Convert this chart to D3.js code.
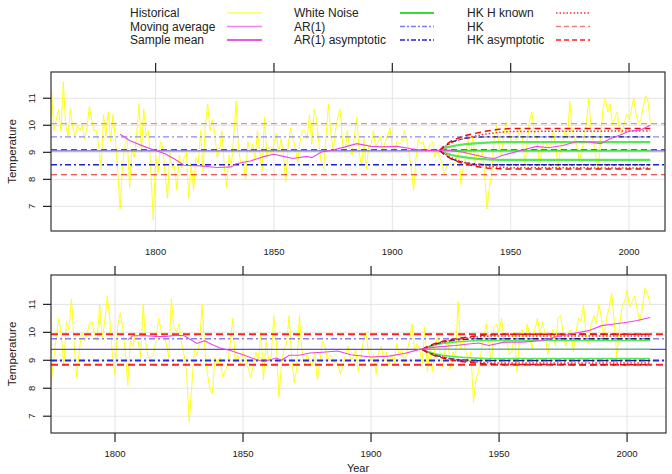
<!DOCTYPE html>
<html><head><meta charset="utf-8">
<script src="https://cdn.jsdelivr.net/npm/d3@7/dist/d3.min.js"></script>
<style>body{margin:0;background:#fff} svg{display:block} text{font-family:"Liberation Sans",Arial,sans-serif;fill:#222}</style>
</head><body><svg id="c" width="672" height="474"></svg>
<script>
// ---------------- DATA ----------------
const topStartYear = 1756;
const topTemp = [
11.3,9.8,10.2,10.6,9.8,11.6,10.0,9.6,10.6,9.9,
9.6,10.0,9.8,10.0,9.5,9.9,10.7,10.2,9.8,9.8,
9.2,8.4,10.4,9.6,10.5,9.4,10.4,9.5,8.3,6.9,
8.5,9.2,9.6,7.7,9.1,8.8,9.7,10.8,9.0,10.6,
9.6,9.8,8.3,6.5,8.9,8.2,9.4,9.2,8.2,7.3,
9.0,8.4,8.5,7.6,8.9,8.4,8.8,9.0,7.3,8.6,
7.6,8.8,8.6,9.8,8.3,10.0,10.8,9.8,10.2,9.7,
8.8,9.1,9.8,8.5,7.7,8.9,8.5,9.6,10.9,9.1,
8.6,8.7,8.0,9.4,9.0,9.3,8.7,9.8,9.0,8.3,
10.3,8.8,9.2,8.9,9.3,9.7,9.0,9.5,8.9,7.9,
9.3,9.9,9.5,9.2,8.6,9.4,9.8,9.8,9.5,10.4,
9.3,10.6,10.2,9.3,8.6,8.4,9.6,10.8,9.7,9.1,
9.8,10.3,10.6,9.3,9.0,9.8,9.1,8.9,9.6,10.3,
9.0,8.5,9.5,8.4,9.2,9.3,9.8,9.2,9.4,9.6,
9.0,9.4,9.6,9.9,9.2,9.1,9.4,9.3,9.4,9.8,
9.5,9.0,8.4,7.6,8.8,9.5,9.3,9.4,9.0,9.1,
9.3,9.4,8.8,9.1,8.8,8.6,8.2,8.5,8.6,8.5,
8.6,8.7,9.0,7.8,8.5,8.8,9.5,8.9,9.6,8.6,
9.0,8.7,9.0,8.2,6.9,7.7,8.2,9.5,10.0,9.3,
8.9,9.6,10.1,9.8,9.5,9.3,9.4,9.6,9.9,9.5,
8.5,9.4,10.2,10.5,9.6,9.6,8.6,8.9,9.4,9.3,
9.2,9.3,9.8,9.3,8.4,9.1,9.4,9.8,9.5,10.9,
9.8,9.5,9.2,8.7,9.0,9.5,10.1,11.0,9.8,9.4,
8.8,8.4,9.5,10.6,11.0,10.5,10.8,10.0,10.3,10.5,
9.8,9.7,10.1,10.4,10.2,10.6,11.0,10.4,10.1,10.2,
10.7,11.1,10.9,10.1];
const bottomStartYear = 1775;
const bottomTemp = [
8.1,9.0,9.8,10.5,9.9,8.8,10.4,10.1,11.2,9.7,
8.4,9.3,10.0,9.7,9.9,10.3,10.4,9.9,9.7,11.0,
9.8,10.4,11.3,10.4,9.2,8.5,10.2,10.7,10.2,9.3,
8.1,9.7,9.5,10.0,9.7,9.1,11.0,9.6,9.1,9.1,
9.2,9.7,10.5,10.1,9.9,9.6,9.1,11.2,10.2,10.0,
10.3,9.6,9.2,8.5,6.8,8.1,9.4,9.2,9.6,11.0,
9.5,8.6,8.0,7.8,9.1,8.9,9.1,8.4,8.6,8.9,
9.6,10.5,8.9,9.2,8.8,9.3,9.1,8.7,8.4,8.8,
9.3,9.0,10.0,8.3,9.7,9.0,9.1,10.6,9.7,7.7,
8.8,9.4,9.6,10.6,9.1,8.2,8.7,10.6,9.4,8.8,
9.2,9.0,8.8,9.3,8.3,8.9,9.7,9.5,9.0,9.2,
9.1,8.9,8.9,8.5,8.8,9.2,9.5,9.0,9.1,9.4,
8.6,9.06,9.7,10.0,9.3,9.0,9.2,8.5,9.3,9.5,
9.0,9.3,8.8,9.2,8.9,9.6,9.2,9.4,8.9,9.3,
9.7,10.3,9.3,9.6,9.4,8.9,10.2,8.6,9.4,8.6,
9.5,9.9,9.2,8.75,9.4,9.8,8.7,9.3,9.1,11.1,
9.4,9.8,9.3,9.05,9.3,7.5,8.3,8.6,9.3,9.8,
10.3,9.6,8.9,10.2,10.3,10.0,10.5,9.6,9.8,9.2,
9.3,10.0,8.6,9.8,10.1,9.7,10.3,9.8,9.4,10.1,
10.5,9.9,10.4,9.9,9.2,9.8,10.1,9.5,10.5,10.6,
10.0,9.5,10.0,10.1,9.3,10.0,10.5,10.4,11.0,9.9,
9.6,10.3,10.6,10.3,11.0,10.5,9.8,10.5,10.9,11.4,
10.4,9.1,10.2,10.9,11.1,11.5,10.9,11.1,11.3,10.8,
10.4,10.9,11.6,11.4,11.0];

// 30-year moving average
const topMAYears  = [1785,1789,1795,1800,1804,1808,1812,1819,1826,1832,1834,1840,1846,1850,1854,1858,1864,1866,1870,1874,1880,1885,1891,1896,1902,1908,1913,1919,1924,1930,1935,1940,1943,1947,1952,1957,1961,1966,1972,1978,1983,1988,1992,1996,2000,2005,2009];
const topMAValues = [9.67,9.44,9.22,9.07,8.95,8.75,8.52,8.50,8.44,8.46,8.58,8.68,8.85,8.93,8.85,8.77,8.85,8.80,9.01,9.07,9.20,9.32,9.22,9.20,9.22,9.13,9.07,9.07,9.07,9.0,8.9,8.8,8.77,8.9,9.01,9.13,9.22,9.17,9.25,9.40,9.38,9.32,9.50,9.63,9.78,9.83,10.0];
const botMAYears  = [1805,1807,1812,1816,1820,1824,1827,1829,1832,1835,1837,1841,1845,1850,1855,1858,1861,1863,1865,1868,1872,1876,1881,1887,1892,1900,1907,1913,1919,1925,1933,1939,1942,1946,1952,1959,1967,1972,1978,1985,1990,1995,2000,2004,2009];
const botMAValues = [9.73,9.88,9.88,9.85,9.85,9.90,9.88,9.77,9.60,9.70,9.60,9.44,9.35,9.20,9.03,8.96,9.03,9.08,9.0,9.18,9.18,9.26,9.29,9.33,9.20,9.12,9.15,9.24,9.39,9.47,9.53,9.59,9.62,9.53,9.65,9.65,9.71,9.83,9.94,10.06,10.24,10.30,10.36,10.42,10.53];

// horizontal reference levels (series name, value)
const topLevelNames  = ["HK","AR(1)","HK asymptotic","Sample mean","AR(1) asymptotic","HK asymptotic"];
const topLevelValues = [10.06,9.57,9.10,9.05,8.54,8.17];
const botLevelNames  = ["HK asymptotic","AR(1)","Sample mean","AR(1) asymptotic","HK asymptotic"];
const botLevelValues = [9.93,9.77,9.39,8.99,8.84];

// forecast envelopes from 1920
const fcYears = [1920,1922,1925,1928,1931,1935,1940,1945,1950,2009];
const topWNUp  = [9.07,9.15,9.22,9.27,9.30,9.33,9.36,9.38,9.38,9.38];
const topWNLo  = [9.07,8.98,8.90,8.85,8.81,8.77,8.74,8.72,8.72,8.72];
const topWNMid = [9.07,9.07,9.07,9.07,9.07,9.07,9.07,9.07,9.07,9.07];
const topARUp  = [9.07,9.22,9.38,9.47,9.52,9.56,9.57,9.57,9.57,9.57];
const topARLo  = [9.07,8.92,8.76,8.67,8.61,8.57,8.54,8.54,8.54,8.54];
const topHKKUp = [9.07,9.20,9.35,9.45,9.53,9.60,9.68,9.74,9.77,9.79];
const topHKKLo = [9.07,8.95,8.80,8.70,8.62,8.55,8.49,8.45,8.43,8.42];
const topHKUp  = [9.07,9.25,9.42,9.53,9.62,9.70,9.79,9.85,9.88,9.88];
const topHKLo  = [9.07,8.92,8.75,8.64,8.56,8.48,8.42,8.39,8.38,8.38];
const botWNUp  = [9.39,9.47,9.55,9.60,9.64,9.67,9.70,9.71,9.71,9.71];
const botWNLo  = [9.39,9.31,9.23,9.18,9.14,9.11,9.08,9.06,9.06,9.06];
const botWNMid = [9.39,9.39,9.39,9.39,9.39,9.39,9.39,9.39,9.39,9.39];
const botARUp  = [9.39,9.48,9.58,9.65,9.70,9.74,9.77,9.77,9.77,9.77];
const botARLo  = [9.39,9.29,9.18,9.11,9.06,9.02,8.99,8.99,8.99,8.99];
const botHKKUp = [9.39,9.47,9.57,9.65,9.71,9.77,9.82,9.86,9.87,9.87];
const botHKKLo = [9.39,9.30,9.20,9.12,9.06,9.00,8.95,8.91,8.90,8.90];
const botHKUp  = [9.39,9.50,9.60,9.68,9.74,9.80,9.86,9.91,9.93,9.93];
const botHKLo  = [9.39,9.28,9.16,9.08,9.02,8.96,8.91,8.87,8.85,8.84];

const xTicks = [1800,1850,1900,1950,2000];
const yTicks = [7,8,9,10,11];
const legendNames = ["Historical","Moving average","Sample mean","White Noise","AR(1)","AR(1) asymptotic","HK H known","HK","HK asymptotic"];

// ---------------- STYLES ----------------
const legendStyle = {
  "Historical":{c:"#ffff50",w:1.5,d:null},
  "Moving average":{c:"#f080f0",w:1.6,d:null},
  "Sample mean":{c:"#e020e0",w:1.6,d:null},
  "White Noise":{c:"#33dd33",w:2,d:null},
  "AR(1)":{c:"#7a7aff",w:1.4,d:"5,2,2,2"},
  "AR(1) asymptotic":{c:"#2222dd",w:1.6,d:"5,2,2,2"},
  "HK H known":{c:"#ff3030",w:1.4,d:"1.5,2"},
  "HK":{c:"#f08080",w:1.4,d:"5,3"},
  "HK asymptotic":{c:"#ff1a1a",w:1.6,d:"5,3"}
};
const levelStyleTop = {
  "HK":{c:"#e89090",w:1.2,d:"6,4"},
  "AR(1)":{c:"#8a8af5",w:1.2,d:"6,3,2,3"},
  "HK asymptotic":{c:"#e82020",w:1.2,d:"6,4"},
  "Sample mean":{c:"#6a6ae6",w:1.3,d:null},
  "AR(1) asymptotic":{c:"#2020d0",w:1.3,d:"6,3,2,3"}
};
const levelStyleBot = {
  "HK asymptotic":{c:"#ff2020",w:2,d:"7,4"},
  "AR(1)":{c:"#8080f5",w:1.4,d:"6,3,2,3"},
  "Sample mean":{c:"#5050d8",w:1.3,d:null},
  "AR(1) asymptotic":{c:"#2a2ae0",w:2,d:"6,3,2,3"}
};

const svg = d3.select("#c");

// ---------------- LEGEND ----------------
const legCols = [{tx:130,lx1:227,lx2:262},{tx:294,lx1:400,lx2:434},{tx:467,lx1:556,lx2:590}];
const legRows = [13,26.5,40];
legendNames.forEach((n,i)=>{
  const col = legCols[Math.floor(i/3)], ry = legRows[i%3], s = legendStyle[n];
  svg.append("text").attr("x",col.tx).attr("y",ry).attr("dy","0.35em").attr("font-size",12).style("fill","#222").text(n);
  svg.append("line").attr("x1",col.lx1).attr("x2",col.lx2).attr("y1",ry).attr("y2",ry)
    .attr("stroke",s.c).attr("stroke-width",s.w).attr("stroke-dasharray",s.d);
});

// ---------------- PANELS ----------------
function panel(cfg){
  const x = d3.scaleLinear().domain(cfg.xdom).range([cfg.left,cfg.right]);
  const y = d3.scaleLinear().domain(cfg.ydom).range([cfg.bottom,cfg.top]);
  const g = svg.append("g");
  // grid
  g.selectAll(".gx").data(xTicks).enter().append("line")
    .attr("x1",d=>x(d)).attr("x2",d=>x(d)).attr("y1",cfg.top).attr("y2",cfg.bottom)
    .attr("stroke","#e4e4e4").attr("stroke-width",1);
  g.selectAll(".gy").data(yTicks).enter().append("line")
    .attr("x1",cfg.left).attr("x2",cfg.right).attr("y1",d=>y(d)).attr("y2",d=>y(d))
    .attr("stroke","#e4e4e4").attr("stroke-width",1);
  const clip = "clip"+cfg.id;
  svg.append("clipPath").attr("id",clip).append("rect")
    .attr("x",cfg.left).attr("y",cfg.top).attr("width",cfg.right-cfg.left).attr("height",cfg.bottom-cfg.top);
  const pg = g.append("g").attr("clip-path","url(#"+clip+")");
  const line = d3.line().x(d=>x(d[0])).y(d=>y(d[1]));
  // historical
  const hist = cfg.temp.map((v,i)=>[cfg.start+i,v]);
  pg.append("path").attr("d",line(hist)).attr("fill","none").attr("stroke","#ffff00").attr("stroke-width",0.9);
  // levels
  cfg.levelNames.forEach((n,i)=>{
    const s = cfg.levelStyle[n], v = cfg.levelValues[i];
    pg.append("path").attr("d",line([[cfg.xdom[0],v],[cfg.xdom[1],v]])).attr("fill","none")
      .attr("stroke",s.c).attr("stroke-width",s.w).attr("stroke-dasharray",s.d);
  });
  // forecasts
  const fc = (arr,c,w,d)=>pg.append("path").attr("d",line(fcYears.map((yr,i)=>[yr,arr[i]])))
      .attr("fill","none").attr("stroke",c).attr("stroke-width",w).attr("stroke-dasharray",d);
  fc(cfg.wnUp,"#55e855",cfg.wnW,null); fc(cfg.wnLo,"#55e855",cfg.wnW,null); fc(cfg.wnMid,"#44dd44",1.3,null);
  fc(cfg.arUp,"#1a1a7a",1.3,"6,3,2,3"); fc(cfg.arLo,"#1a1a9a",1.3,"6,3,2,3");
  fc(cfg.hkkUp,"#ff2a2a",1.5,"1.5,2"); fc(cfg.hkkLo,"#ff2a2a",1.5,"1.5,2");
  fc(cfg.hkUp,"#e01010",1.5,"6,4"); fc(cfg.hkLo,"#e01010",1.5,"6,4");
  // moving average
  pg.append("path").attr("d",line(cfg.maY.map((yr,i)=>[yr,cfg.maV[i]]))).attr("fill","none")
    .attr("stroke","#e848e8").attr("stroke-width",1.1);
  // border
  g.append("rect").attr("x",cfg.left).attr("y",cfg.top).attr("width",cfg.right-cfg.left).attr("height",cfg.bottom-cfg.top)
    .attr("fill","none").attr("stroke","#333").attr("stroke-width",1.2);
  // y ticks + labels
  yTicks.forEach(t=>{
    g.append("line").attr("x1",cfg.left-8).attr("x2",cfg.left).attr("y1",y(t)).attr("y2",y(t)).attr("stroke","#222").attr("stroke-width",1.2);
    g.append("text").attr("transform",`translate(32,${y(t)}) rotate(-90)`).attr("text-anchor","middle")
      .attr("dy","0.35em").attr("font-size",9.5).text(t);
  });
  // x ticks
  xTicks.forEach(t=>{
    g.append("line").attr("x1",x(t)).attr("x2",x(t)).attr("y1",cfg.top-9).attr("y2",cfg.top).attr("stroke","#222").attr("stroke-width",1.2);
    if(cfg.bottomTicks) g.append("line").attr("x1",x(t)).attr("x2",x(t)).attr("y1",cfg.bottom).attr("y2",cfg.bottom+9).attr("stroke","#222").attr("stroke-width",1.2);
    g.append("text").attr("x",x(t)).attr("y",cfg.labelY).attr("dy","0.35em").attr("text-anchor","middle").attr("font-size",9.5).text(t);
  });
  // y title
  g.append("text").attr("transform",`translate(12,${(cfg.top+cfg.bottom)/2}) rotate(-90)`).attr("text-anchor","middle")
    .attr("dy","0.35em").attr("font-size",11.5).text("Temperature");
}

panel({id:"t",xdom:[1755.8,2015.2],ydom:[6.09,11.97],left:51,right:665,top:72,bottom:231,
  temp:topTemp,start:topStartYear,levelNames:topLevelNames,levelValues:topLevelValues,levelStyle:levelStyleTop,
  wnUp:topWNUp,wnLo:topWNLo,wnMid:topWNMid,wnW:2.2,arUp:topARUp,arLo:topARLo,hkkUp:topHKKUp,hkkLo:topHKKLo,hkUp:topHKUp,hkLo:topHKLo,
  maY:topMAYears,maV:topMAValues,labelY:252,bottomTicks:false});
panel({id:"b",xdom:[1775,2015.2],ydom:[6.40,12.05],left:51,right:666,top:275,bottom:433,
  temp:bottomTemp,start:bottomStartYear,levelNames:botLevelNames,levelValues:botLevelValues,levelStyle:levelStyleBot,
  wnUp:botWNUp,wnLo:botWNLo,wnMid:botWNMid,wnW:1.6,arUp:botARUp,arLo:botARLo,hkkUp:botHKKUp,hkkLo:botHKKLo,hkUp:botHKUp,hkLo:botHKLo,
  maY:botMAYears,maV:botMAValues,labelY:454,bottomTicks:true});

svg.append("text").attr("x",358).attr("y",472).attr("text-anchor","middle").attr("font-size",11).text("Year");
</script></body></html>
